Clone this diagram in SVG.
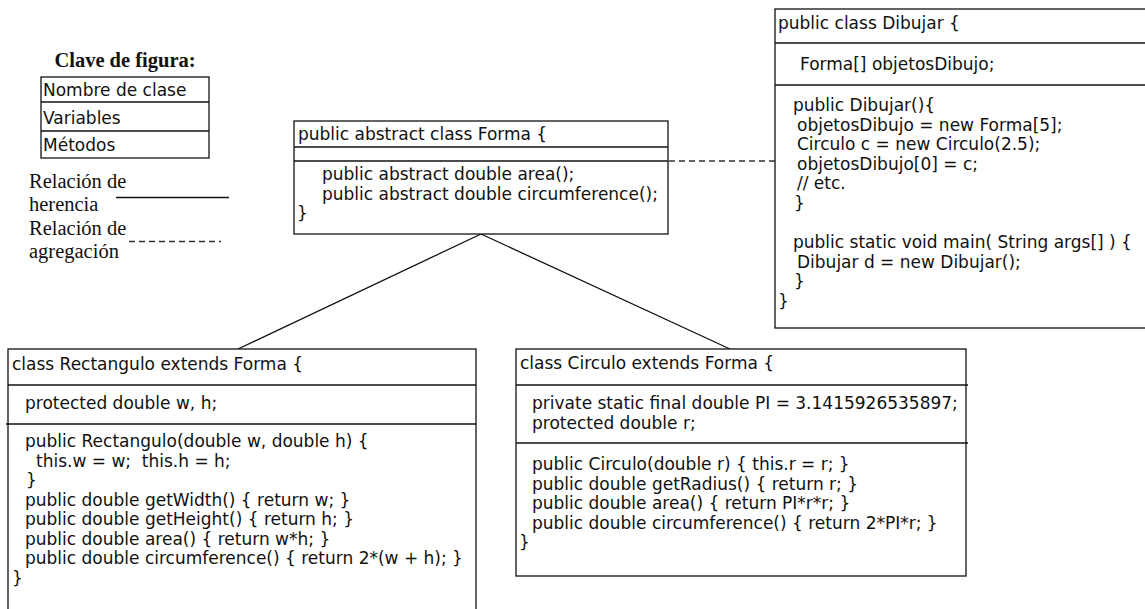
<svg xmlns="http://www.w3.org/2000/svg" width="1145" height="609" viewBox="0 0 1145 609" xml:space="preserve">
<style>
  .box { fill: #ffffff; stroke: #111111; stroke-width: 1.3; }
  .sep { stroke: #111111; stroke-width: 1.3; fill: none; }
  .code { font-family: "DejaVu Sans", Verdana, sans-serif; font-size: 17px; fill: #111111; white-space: pre; }
  .serif { font-family: "Liberation Serif", "Times New Roman", serif; font-size: 20.5px; fill: #111111; }
  .title { font-weight: bold; }
  .inherit { stroke: #111111; stroke-width: 1.3; fill: none; }
  .aggr { stroke: #333333; stroke-width: 1.6; fill: none; stroke-dasharray: 6 4; }
</style>

<g id="legend">
  <text class="serif title" x="125" y="67" text-anchor="middle">Clave de figura:</text>
  <rect class="box" x="41" y="77" width="168" height="81"/>
  <line class="sep" x1="41" y1="102" x2="209" y2="102"/>
  <line class="sep" x1="41" y1="131" x2="209" y2="131"/>
  <text class="code" x="43" y="96">Nombre de clase</text>
  <text class="code" x="43" y="124">Variables</text>
  <text class="code" x="43" y="151">Métodos</text>
  <text class="serif" x="29" y="188">Relación de</text>
  <text class="serif" x="29" y="211">herencia</text>
  <text class="serif" x="29" y="235">Relación de</text>
  <text class="serif" x="29" y="258">agregación</text>
  <line class="inherit" x1="116" y1="197.5" x2="229" y2="197.5"/>
  <line class="aggr" x1="129" y1="241.5" x2="221" y2="241.5"/>
</g>

<g id="connectors">
  <line id="inherit-rect" class="inherit" x1="481" y1="234" x2="238" y2="349"/>
  <line id="inherit-circ" class="inherit" x1="481" y1="234" x2="730" y2="349"/>
  <line id="aggr-dibujar" class="aggr" x1="669" y1="161" x2="775" y2="161"/>
</g>

<g id="node-forma">
  <rect class="box" x="294" y="121" width="374" height="113"/>
  <line class="sep" x1="294" y1="147" x2="668" y2="147"/>
  <line class="sep" x1="294" y1="161" x2="668" y2="161"/>
  <text class="code" x="298" y="140">public abstract class Forma {</text>
  <text class="code" x="322" y="180">public abstract double area();</text>
  <text class="code" x="322" y="200">public abstract double circumference();</text>
  <text class="code" x="297" y="219">}</text>
</g>

<g id="node-dibujar">
  <rect class="box" x="775" y="9" width="380" height="319"/>
  <line class="sep" x1="775" y1="43" x2="1150" y2="43"/>
  <line class="sep" x1="775" y1="85" x2="1150" y2="85"/>
  <text class="code" x="778" y="29">public class Dibujar {</text>
  <text class="code" x="800" y="70">Forma[] objetosDibujo;</text>
  <text class="code" x="793" y="111">public Dibujar(){</text>
  <text class="code" x="797" y="130.5">objetosDibujo = new Forma[5];</text>
  <text class="code" x="797" y="150">Circulo c = new Circulo(2.5);</text>
  <text class="code" x="797" y="169.5">objetosDibujo[0] = c;</text>
  <text class="code" x="797" y="189">// etc.</text>
  <text class="code" x="794" y="208.5">}</text>
  <text class="code" x="793" y="248">public static void main( String args[] ) {</text>
  <text class="code" x="797" y="267.5">Dibujar d = new Dibujar();</text>
  <text class="code" x="794" y="287">}</text>
  <text class="code" x="778" y="306.5">}</text>
</g>

<g id="node-rectangulo">
  <rect class="box" x="8" y="349" width="468" height="270"/>
  <line class="sep" x1="8" y1="385" x2="476" y2="385"/>
  <line class="sep" x1="6" y1="424" x2="476" y2="424"/>
  <text class="code" x="12" y="370">class Rectangulo extends Forma {</text>
  <text class="code" x="25" y="409">protected double w, h;</text>
  <text class="code" x="25" y="447">public Rectangulo(double w, double h) {</text>
  <text class="code" x="36" y="466.5">this.w = w;  this.h = h;</text>
  <text class="code" x="26" y="486">}</text>
  <text class="code" x="25" y="505.5">public double getWidth() { return w; }</text>
  <text class="code" x="25" y="525">public double getHeight() { return h; }</text>
  <text class="code" x="25" y="544.5">public double area() { return w*h; }</text>
  <text class="code" x="25" y="564">public double circumference() { return 2*(w + h); }</text>
  <text class="code" x="12" y="583.5">}</text>
</g>

<g id="node-circulo">
  <rect class="box" x="516" y="349" width="450" height="227"/>
  <line class="sep" x1="516" y1="385" x2="968" y2="385"/>
  <line class="sep" x1="516" y1="443" x2="968" y2="443"/>
  <text class="code" x="520" y="369">class Circulo extends Forma {</text>
  <text class="code" x="532" y="409">private static final double PI = 3.1415926535897;</text>
  <text class="code" x="532" y="429">protected double r;</text>
  <text class="code" x="532" y="470">public Circulo(double r) { this.r = r; }</text>
  <text class="code" x="532" y="489.5">public double getRadius() { return r; }</text>
  <text class="code" x="532" y="509">public double area() { return PI*r*r; }</text>
  <text class="code" x="532" y="528.5">public double circumference() { return 2*PI*r; }</text>
  <text class="code" x="519" y="548">}</text>
</g>
</svg>
